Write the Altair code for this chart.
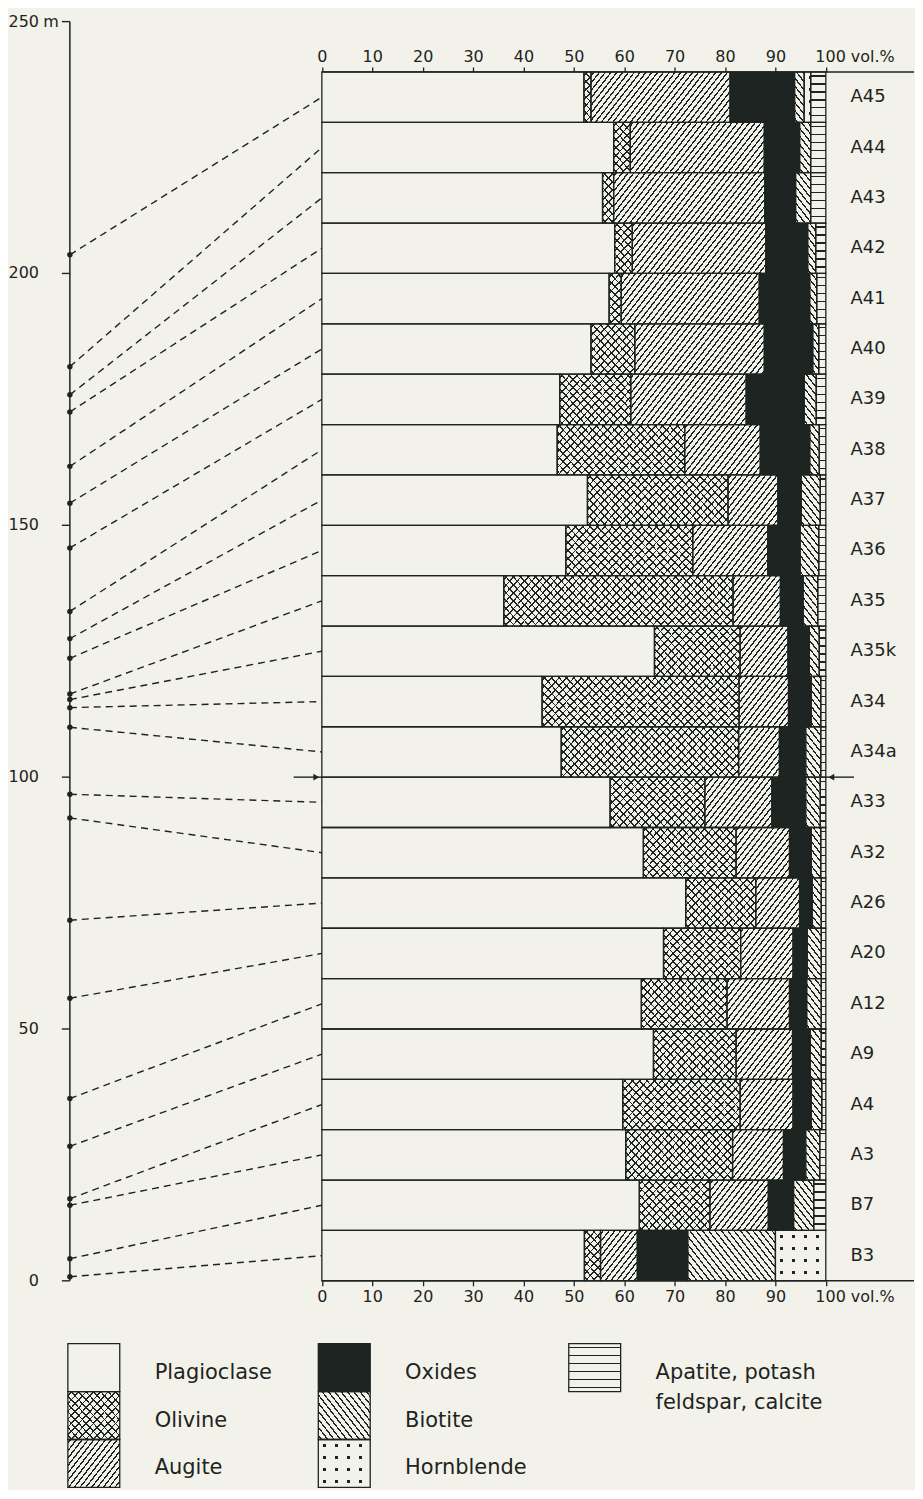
import math
import altair as alt

# ---------------- data ----------------
samples = ["A45", "A44", "A43", "A42", "A41", "A40", "A39", "A38", "A37", "A36",
           "A35", "A35k", "A34", "A34a", "A33", "A32", "A26", "A20", "A12", "A9",
           "A4", "A3", "B7", "B3"]
height_m = [203.7, 181.5, 175.9, 172.5, 161.7, 154.4, 145.5, 132.9, 127.5, 123.6,
            116.5, 115.4, 113.8, 109.9, 96.6, 91.9, 71.6, 56.1, 36.2, 26.7,
            16.3, 15.0, 4.4, 0.8]
plagioclase = [52.0, 57.9, 55.7, 58.1, 57.0, 53.4, 47.2, 46.7, 52.7, 48.4,
               36.1, 66.0, 43.7, 47.5, 57.2, 63.8, 72.2, 67.8, 63.4, 65.8,
               59.7, 60.3, 63.0, 52.1]
olivine = [1.4, 3.3, 2.2, 3.5, 2.4, 8.7, 14.1, 25.3, 27.9, 25.2,
           45.5, 17.0, 39.1, 35.2, 18.8, 18.4, 13.9, 15.3, 17.0, 16.4,
           23.3, 21.2, 14.0, 3.2]
augite = [27.6, 26.6, 30.0, 26.5, 27.4, 25.7, 22.9, 15.0, 9.9, 14.9,
          9.4, 9.5, 9.8, 8.1, 13.3, 10.6, 8.7, 10.4, 12.4, 11.2,
          10.5, 10.1, 11.6, 7.3]
oxides = [12.8, 7.0, 6.1, 8.3, 10.0, 9.6, 11.5, 9.8, 4.6, 6.4,
          4.5, 4.2, 4.5, 5.2, 6.7, 4.3, 2.5, 2.8, 3.4, 3.5,
          3.6, 4.4, 5.0, 10.0]
biotite = [1.9, 2.2, 3.0, 1.6, 1.4, 1.2, 2.4, 1.9, 3.8, 3.7,
           2.9, 2.0, 1.9, 3.0, 2.9, 1.9, 1.8, 2.8, 2.9, 2.2,
           2.1, 2.8, 4.0, 17.4]
hornblende = [1.3, 0, 0, 0, 0, 0, 0, 0, 0, 0,
              0, 0, 0, 0, 0, 0, 0, 0, 0, 0,
              0, 0, 0, 10.0]
apatite = [3.0, 3.0, 3.0, 2.0, 1.8, 1.4, 1.9, 1.3, 1.1, 1.4,
           1.6, 1.3, 1.0, 1.0, 1.1, 1.0, 0.9, 0.9, 0.9, 0.9,
           0.8, 1.2, 2.4, 0.0]

minerals = ["Plagioclase", "Olivine", "Augite", "Oxides", "Biotite", "Hornblende", "Apatite"]
legend_labels = ["Plagioclase", "Olivine", "Augite", "Oxides", "Biotite", "Hornblende",
                 "Apatite, potash\nfeldspar, calcite"]
height_ticks = [0, 50, 100, 150, 200, 250]
vol_ticks = [0, 10, 20, 30, 40, 50, 60, 70, 80, 90, 100]
marker_level_m = [100]

# ---------------- style / layout ----------------
INK = "#1d2421"
PAPER = "#f3f2ea"
CLEAR = "rgba(0,0,0,0)"
FONT = "DejaVu Sans"

W, H = 846, 1262
X_DOM = [-50, 117.5]
Y_DOM = [0, 250]
PX_X = W / (X_DOM[1] - X_DOM[0])
PX_Y = H / (Y_DOM[1] - Y_DOM[0])
SLOT = 10  # metres of the height scale used by one sample bar
LABEL_X = 104.9


def band_stops(span, period, lw, ink, paper):
    st = [(0.0, paper)]
    c = period / 2.0
    while c - lw / 2 < span:
        a = max(0.0, (c - lw / 2) / span)
        b = min(1.0, (c + lw / 2) / span)
        st += [(a, paper), (a, ink), (b, ink), (b, paper)]
        c += period
    st.append((1.0, paper))
    return [{"offset": round(o, 5), "color": col} for o, col in st]


def hatch(w, h, kind, period, lw, ink, paper, angle=45):
    if kind == "h":
        geom = {"x1": 0, "y1": 0, "x2": 0.000001, "y2": 1}
        span = h
    elif kind == "v":
        geom = {"x1": 0, "y1": 0, "x2": 1, "y2": 0.000001}
        span = w
    else:
        t = math.radians(angle)
        A = w * math.sin(t)
        B = h * math.cos(t)
        k = (A + B) / (A * A + B * B)
        span = A + B
        if kind == "/":
            geom = {"x1": 0, "y1": 0, "x2": k * A, "y2": k * B}
        else:
            geom = {"x1": 0, "y1": 1, "x2": k * A, "y2": 1 - k * B}
    return {"gradient": "linear", **geom, "stops": band_stops(span, period, lw, ink, paper)}


def pattern_fills(mineral, w, h):
    if mineral == "Plagioclase":
        return PAPER, None
    if mineral == "Olivine":
        return (hatch(w, h, "/", 5.4, 1.2, INK, PAPER, 47),
                hatch(w, h, "\\", 5.4, 1.2, INK, CLEAR, 47))
    if mineral == "Augite":
        return hatch(w, h, "/", 4.6, 1.3, INK, PAPER, 52), None
    if mineral == "Oxides":
        return INK, None
    if mineral == "Biotite":
        return hatch(w, h, "\\", 5.0, 1.3, INK, PAPER, 52), None
    if mineral == "Hornblende":
        return (hatch(w, h, "h", 12, 3.0, INK, PAPER),
                hatch(w, h, "v", 12, 3.0, CLEAR, PAPER))
    return hatch(w, h, "h", 8, 1.2, INK, PAPER), None


components = [plagioclase, olivine, augite, oxides, biotite, hornblende, apatite]
n = len(samples)
seg_rows, over_rows, conn_rows = [], [], []
for j, s in enumerate(samples):
    slot = n - 1 - j
    y0, y1 = slot * SLOT, (slot + 1) * SLOT
    start = 0.0
    for m, arr in zip(minerals, components):
        v = arr[j]
        if v <= 0:
            continue
        end = start + v
        f1, f2 = pattern_fills(m, v * PX_X, SLOT * PX_Y)
        seg_rows.append({"sample": s, "mineral": m, "x0": start, "x1": end,
                         "y0": y0, "y1": y1, "f1": f1})
        if f2 is not None:
            over_rows.append({"sample": s, "mineral": m, "x0": start, "x1": end,
                              "y0": y0, "y1": y1, "f2": f2})
        start = end
    conn_rows.append({"sample": s, "h": height_m[j], "mid": (slot + 0.5) * SLOT,
                      "xa": X_DOM[0], "xb": 0, "lx": LABEL_X})

frame_rows = [{"y": 0, "xf": 0}, {"y": n * SLOT, "xf": 0}]
arrow_rows = []
for lev in marker_level_m:
    arrow_rows.append({"lev": lev, "xs": -5.6, "xe": 0, "xh": -1.1, "shape": "triangle-right"})
    arrow_rows.append({"lev": lev, "xs": 100, "xe": 105.6, "xh": 101.1, "shape": "triangle-left"})
ytick_rows = [{"v": t, "lab": str(t)} for t in height_ticks]
yspan_rows = [{"lo": min(height_ticks), "hi": max(height_ticks)}]
unit_rows = [{"v": max(height_ticks), "t": "m"}]

xs = alt.Scale(domain=X_DOM, nice=False, zero=False)
ys = alt.Scale(domain=Y_DOM, nice=False, zero=False)

vol_expr = "datum.value == 100 ? '100 vol.%' : datum.label"
is100 = "datum.value == 100"


def vol_axis(orient, offset, pad):
    return alt.Axis(orient=orient, values=vol_ticks, offset=offset, domain=False, grid=False,
                    ticks=True, tickSize=5, tickColor=INK, tickWidth=1.3,
                    labelFont=FONT, labelFontSize=16, labelColor=INK, labelPadding=pad,
                    labelOverlap=False, labelFlush=False, title=None, labelExpr=vol_expr,
                    labelAlign={"condition": {"test": is100, "value": "left"}, "value": "center"},
                    labelOffset={"condition": {"test": is100, "value": -11}, "value": 0})


base = alt.Chart(alt.Data(values=seg_rows)).mark_rect(strokeWidth=0).encode(
    x=alt.X("x0:Q", scale=xs, axis=vol_axis("top", -SLOT * PX_Y, 2)),
    x2="x1:Q",
    y=alt.Y("y0:Q", scale=ys, axis=None),
    y2="y1:Q",
    fill=alt.Fill("f1:N", scale=None),
)
overlay = alt.Chart(alt.Data(values=over_rows)).mark_rect(strokeWidth=0).encode(
    x=alt.X("x0:Q", scale=xs, axis=None), x2="x1:Q",
    y=alt.Y("y0:Q", scale=ys, axis=None), y2="y1:Q",
    fill=alt.Fill("f2:N", scale=None),
)
outline = alt.Chart(alt.Data(values=seg_rows)).mark_rect(
    fill="transparent", stroke=INK, strokeWidth=1.3).encode(
    x=alt.X("x0:Q", scale=xs, axis=vol_axis("bottom", 0, 3)), x2="x1:Q",
    y=alt.Y("y0:Q", scale=ys, axis=None), y2="y1:Q",
)
frame = alt.Chart(alt.Data(values=frame_rows)).mark_rule(color=INK, strokeWidth=1.5).encode(
    x=alt.X("xf:Q", scale=xs, axis=None), x2=alt.value(W),
    y=alt.Y("y:Q", scale=ys, axis=None),
)
connectors = alt.Chart(alt.Data(values=conn_rows)).mark_rule(
    color=INK, strokeWidth=1.4, strokeDash=[7, 5]).encode(
    x=alt.X("xa:Q", scale=xs, axis=None), x2="xb:Q",
    y=alt.Y("h:Q", scale=ys, axis=None), y2="mid:Q",
)
dots = alt.Chart(alt.Data(values=conn_rows)).mark_circle(size=30, color=INK, opacity=1).encode(
    x=alt.X("xa:Q", scale=xs, axis=None),
    y=alt.Y("h:Q", scale=ys, axis=None),
)
arrow_lines = alt.Chart(alt.Data(values=arrow_rows)).mark_rule(color=INK, strokeWidth=1.4).encode(
    x=alt.X("xs:Q", scale=xs, axis=None), x2="xe:Q",
    y=alt.Y("lev:Q", scale=ys, axis=None),
)
arrow_heads = alt.Chart(alt.Data(values=arrow_rows)).mark_point(
    filled=True, size=45, color=INK, opacity=1).encode(
    x=alt.X("xh:Q", scale=xs, axis=None),
    y=alt.Y("lev:Q", scale=ys, axis=None),
    shape=alt.Shape("shape:N", scale=None),
)
names = alt.Chart(alt.Data(values=conn_rows)).mark_text(
    align="left", baseline="middle", font=FONT, fontSize=18, color=INK).encode(
    x=alt.X("lx:Q", scale=xs, axis=None),
    y=alt.Y("mid:Q", scale=ys, axis=None),
    text="sample:N",
)
# height axis drawn from its tick list
y_domain = alt.Chart(alt.Data(values=yspan_rows)).mark_rule(color=INK, strokeWidth=1.5).encode(
    x=alt.value(0), y=alt.Y("lo:Q", scale=ys, axis=None), y2="hi:Q",
)
y_ticks = alt.Chart(alt.Data(values=ytick_rows)).mark_rule(color=INK, strokeWidth=1.4).encode(
    x=alt.value(-8), x2=alt.value(0), y=alt.Y("v:Q", scale=ys, axis=None),
)
y_labels = alt.Chart(alt.Data(values=ytick_rows)).mark_text(
    align="right", baseline="middle", font=FONT, fontSize=16, color=INK).encode(
    x=alt.value(-31), y=alt.Y("v:Q", scale=ys, axis=None), text="lab:N",
)
unit = alt.Chart(alt.Data(values=unit_rows)).mark_text(
    align="center", baseline="middle", font=FONT, fontSize=16, color=INK).encode(
    x=alt.value(-19),
    y=alt.Y("v:Q", scale=ys, axis=None),
    text="t:N",
)

main = alt.layer(base, overlay, outline, frame, connectors, dots, arrow_lines,
                 arrow_heads, names, y_domain, y_ticks, y_labels, unit
                 ).properties(width=W, height=H)

# ---------------- legend ----------------
BOX_W, BOX_H = 52, 48
COL_STEP = 251
LW, LH = 846, 3 * BOX_H
leg_rows, leg_over, leg_text = [], [], []
for i, (m, lab) in enumerate(zip(minerals, legend_labels)):
    col, row = divmod(i, 3)
    x0 = -2 + col * COL_STEP
    y0 = row * BOX_H
    f1, f2 = pattern_fills(m, BOX_W, BOX_H)
    leg_rows.append({"x0": x0, "x1": x0 + BOX_W, "y0": y0, "y1": y0 + BOX_H, "f1": f1})
    if f2 is not None:
        leg_over.append({"x0": x0, "x1": x0 + BOX_W, "y0": y0, "y1": y0 + BOX_H, "f2": f2})
    leg_text.append({"tx": x0 + 87, "ty": y0 + BOX_H / 2 + 5, "label": lab})

lxs = alt.Scale(domain=[0, LW], nice=False, zero=False)
lys = alt.Scale(domain=[0, LH], nice=False, zero=False, reverse=True)

leg_base = alt.Chart(alt.Data(values=leg_rows)).mark_rect(strokeWidth=0).encode(
    x=alt.X("x0:Q", scale=lxs, axis=None), x2="x1:Q",
    y=alt.Y("y0:Q", scale=lys, axis=None), y2="y1:Q",
    fill=alt.Fill("f1:N", scale=None),
)
leg_overlay = alt.Chart(alt.Data(values=leg_over)).mark_rect(strokeWidth=0).encode(
    x=alt.X("x0:Q", scale=lxs, axis=None), x2="x1:Q",
    y=alt.Y("y0:Q", scale=lys, axis=None), y2="y1:Q",
    fill=alt.Fill("f2:N", scale=None),
)
leg_outline = alt.Chart(alt.Data(values=leg_rows)).mark_rect(
    fill="transparent", stroke=INK, strokeWidth=1.3).encode(
    x=alt.X("x0:Q", scale=lxs, axis=None), x2="x1:Q",
    y=alt.Y("y0:Q", scale=lys, axis=None), y2="y1:Q",
)
leg_labels = alt.Chart(alt.Data(values=leg_text)).mark_text(
    align="left", baseline="middle", font=FONT, fontSize=21, color=INK,
    lineBreak="\n", lineHeight=30).encode(
    x=alt.X("tx:Q", scale=lxs, axis=None),
    y=alt.Y("ty:Q", scale=lys, axis=None),
    text="label:N",
)
legend = alt.layer(leg_base, leg_overlay, leg_outline, leg_labels).properties(width=LW, height=LH)

chart = alt.vconcat(main, legend, spacing=38,
                    padding={"left": 0, "top": 4, "right": 0, "bottom": 0},
                    background=PAPER).configure_view(stroke=None)

chart.save("out.html", embed_options={"renderer": "svg", "actions": False})
